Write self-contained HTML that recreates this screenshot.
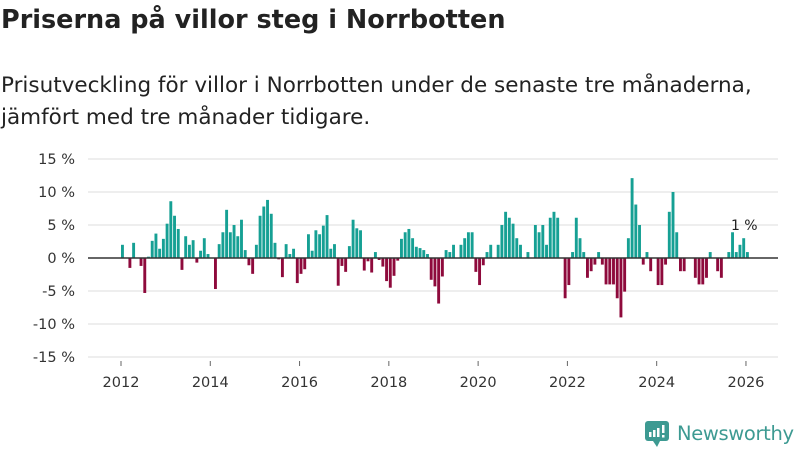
<!DOCTYPE html>
<html><head><meta charset="utf-8"><style>
body{margin:0;background:#fff;width:800px;height:450px;overflow:hidden;font-family:"DejaVu Sans","Liberation Sans",sans-serif;color:#222}
#title{position:absolute;left:1px;top:4px;font-size:25.5px;line-height:32px;font-weight:bold;margin:0;white-space:nowrap}
#sub{position:absolute;left:1px;top:70px;font-size:21.5px;line-height:32px;color:#222;white-space:nowrap}
svg{position:absolute;left:0;top:0}
</style></head><body>
<h1 id="title">Priserna på villor steg i Norrbotten</h1>
<div id="sub">Prisutveckling för villor i Norrbotten under de senaste tre månaderna,<br>jämfört med tre månader tidigare.</div>
<svg id="chart" width="800" height="450" font-family="DejaVu Sans, sans-serif"></svg>
<script>
const startYear = 2012;
const values = [2.0,0,-1.5,2.3,0,-1.2,-5.3,0.2,2.6,3.7,1.4,2.9,5.2,8.6,6.4,4.4,-1.8,3.3,2.0,2.7,-0.7,1.1,3.0,0.6,0,-4.7,2.1,3.9,7.3,3.9,5.0,3.3,5.8,1.2,-1.1,-2.4,2.0,6.4,7.8,8.8,6.7,2.3,-0.2,-2.9,2.1,0.6,1.4,-3.8,-2.4,-1.7,3.6,1.1,4.2,3.6,
4.9,6.5,1.4,2.1,-4.2,-1.2,-2.1,1.8,5.8,4.5,4.2,-1.9,-0.5,-2.2,0.9,-0.3,-1.3,-3.5,-4.5,-2.7,-0.4,2.9,3.9,4.4,3.0,1.7,1.5,1.2,0.6,-3.3,-4.3,-6.9,-2.8,1.2,0.9,2.0,0,2.0,3.0,3.9,3.9,-2.1,-4.1,-1.1,0.9,2.0,0,2.0,5.0,7.0,6.1,5.2,3.0,2.0,0,0.9,0,
5.0,3.9,5.0,2.0,6.1,7.0,6.1,0,-6.1,-4.1,0.9,6.1,3.0,0.9,-3.0,-2.0,-1.0,0.9,-1.0,-4.0,-4.0,-4.0,-6.1,-9.0,-5.1,3.0,12.1,8.1,5.0,-1.0,0.9,-2.0,0,-4.1,-4.1,-1.0,7.0,10.0,3.9,-2.0,-2.0,0,0,-3.0,-4.0,-4.0,-3.0,0.9,0,-2.0,-3.0,0,0.9,3.9,0.9,2.0,3.0,0.9];
const yTicks = [15,10,5,0,-5,-10,-15];
const xTicks = [2012,2014,2016,2018,2020,2022,2024,2026];
const lastLabel = "1 %";

const svg = document.getElementById('chart');
const NS = 'http://www.w3.org/2000/svg';
const X = yr => 121 + (yr - 2012) * 44.64;
const Y = v => 258 - v * 6.6;
function mk(tag, attrs, text){const e=document.createElementNS(NS,tag);for(const k in attrs)e.setAttribute(k,attrs[k]);if(text!==undefined)e.textContent=text;svg.appendChild(e);return e;}

yTicks.forEach(t=>{
  if(t!==0){const g=mk('line',{x1:88,x2:778,y1:Y(t),y2:Y(t),stroke:'#dddddd','stroke-width':1});
  
  }
  const l=mk('text',{x:75,y:Y(t)+5,'text-anchor':'end','font-size':14.5,fill:'#333'},t+' %');
  
  
});
xTicks.forEach(t=>{
  const tk=mk('line',{x1:X(t),x2:X(t),y1:361,y2:366,stroke:'#666','stroke-width':1});
  
  
  const l=mk('text',{x:X(t),y:387,'text-anchor':'middle','font-size':14.5,fill:'#333'},t);
  
  
});
values.forEach((v,i)=>{
  if(v===0)return;
  const x=X(startYear+i/12);
  const y0=Y(0), y1=Y(v);
  const b=mk('rect',{x:x,y:Math.min(y0,y1),width:2.9,height:Math.abs(y1-y0),fill:v>0?'#16a094':'#8e0a3c'});
  
  
});
const z=mk('line',{x1:88,x2:778,y1:Y(0),y2:Y(0),stroke:'#333','stroke-width':1.5});


const li=values.length-1;
const lab=mk('text',{x:X(startYear+li/12)-15,y:Y(values[li])-22,'font-size':14,fill:'#222'},lastLabel);


</script>
<svg width="800" height="450" style="pointer-events:none">
<rect x="645" y="421" width="24" height="20" rx="3" fill="#3d9a92"/>
<path d="M653 441 L657 447 L660 441Z" fill="#3d9a92"/>
<rect x="649" y="432" width="2.5" height="5" fill="#fff"/><rect x="653" y="430" width="2.5" height="7" fill="#fff"/><rect x="657" y="428" width="2.5" height="9" fill="#fff"/><rect x="662" y="425" width="2.5" height="8" fill="#fff"/><rect x="662" y="435" width="2.5" height="2.5" fill="#fff"/>
<text x="677" y="440" font-size="19.5" fill="#3d9a92" font-family="DejaVu Sans, sans-serif" textLength="117">Newsworthy</text>
</svg>
</body></html>
